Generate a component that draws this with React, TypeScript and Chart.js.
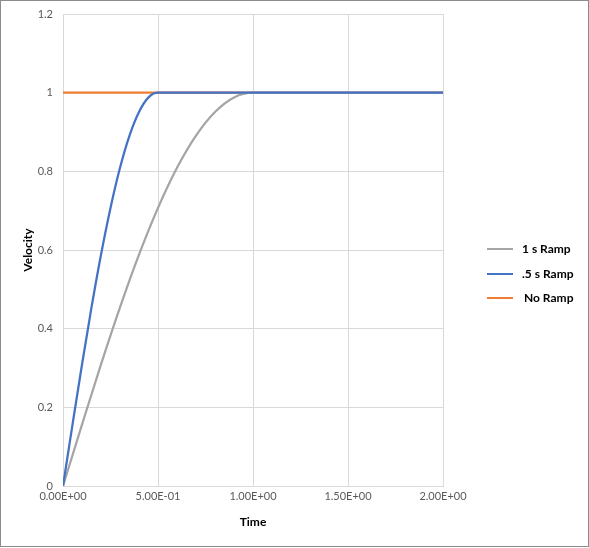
import React, { useEffect, useRef } from "react";
import { Chart, registerables } from "chart.js";

Chart.register(...registerables);

// Data
const seriesLabels = ["1 s Ramp", ".5 s Ramp", "No Ramp"];
const seriesColors = ["#A5A5A5", "#4472C4", "#ED7D31"];

const time1s = [0, 0.1, 0.2, 0.3, 0.4, 0.5, 0.6, 0.7, 0.8, 0.9, 1.0, 2.0];
const vel1s = [0, 0.156, 0.309, 0.454, 0.588, 0.707, 0.809, 0.891, 0.951, 0.988, 1, 1];

const timeHalf = [0, 0.05, 0.1, 0.15, 0.2, 0.25, 0.3, 0.35, 0.4, 0.45, 0.5, 2.0];
const velHalf = [0, 0.156, 0.309, 0.454, 0.588, 0.707, 0.809, 0.891, 0.951, 0.988, 1, 1];

const timeNoRamp = [0, 2.0];
const velNoRamp = [1, 1];

const xTitle = "Time";
const yTitle = "Velocity";

const FONT = "Lato, 'Liberation Sans', sans-serif";

function sci(v: number): string {
  if (v === 0) return "0.00E+00";
  const exp = Math.floor(Math.log10(Math.abs(v)));
  const mant = v / Math.pow(10, exp);
  const sign = exp < 0 ? "-" : "+";
  const e = String(Math.abs(exp)).padStart(2, "0");
  return mant.toFixed(2) + "E" + sign + e;
}

function pts(xs: number[], ys: number[]) {
  return xs.map((x, i) => ({ x, y: ys[i] }));
}

export default function App() {
  const ref = useRef<HTMLCanvasElement>(null);

  useEffect(() => {
    document.body.style.margin = "0";
    const ctx = ref.current!.getContext("2d")!;
    const data = [pts(time1s, vel1s), pts(timeHalf, velHalf), pts(timeNoRamp, velNoRamp)];
    const orders = [2, 1, 3];
    const chart = new Chart(ctx, {
      type: "line",
      data: {
        datasets: data.map((d, i) => ({
          label: seriesLabels[i],
          data: d,
          borderColor: seriesColors[i],
          backgroundColor: seriesColors[i],
          borderWidth: 2.25,
          pointRadius: 0,
          cubicInterpolationMode: "monotone" as const,
          order: orders[i],
          fill: false,
        })),
      },
      options: {
        animation: false,
        responsive: false,
        devicePixelRatio: 1,
        layout: { padding: { left: 0, right: 145, top: 13, bottom: 0 } },
        plugins: { legend: { display: false }, tooltip: { enabled: false } },
        scales: {
          x: {
            type: "linear",
            min: 0,
            max: 2,
            afterFit: (s: any) => {
              s.height = 60;
              s.paddingLeft = 0;
              s.paddingRight = 0;
            },
            ticks: {
              stepSize: 0.5,
              color: "#595959",
              font: { family: FONT, size: 11 },
              padding: 4,
              maxRotation: 0,
              callback: (v: any) => sci(Number(v)),
            },
            grid: { color: "#D9D9D9", drawTicks: false, lineWidth: 1 },
            border: { display: true, color: "#D9D9D9" },
            title: {
              display: true,
              text: xTitle,
              color: "#000",
              font: { family: FONT, size: 12, weight: "bold" },
              padding: { top: 8, bottom: 17 },
            },
          },
          y: {
            type: "linear",
            min: 0,
            max: 1.2,
            afterFit: (s: any) => {
              s.width = 62;
              s.paddingTop = 0;
              s.paddingBottom = 0;
            },
            ticks: {
              stepSize: 0.2,
              color: "#595959",
              font: { family: FONT, size: 11 },
              padding: 10,
              callback: (v: any) => String(Math.round(Number(v) * 10) / 10),
            },
            grid: { color: "#D9D9D9", drawTicks: false, lineWidth: 1 },
            border: { display: true, color: "#D9D9D9" },
            title: {
              display: true,
              text: yTitle,
              color: "#000",
              font: { family: FONT, size: 12, weight: "bold" },
              padding: { top: 20, bottom: 0 },
            },
          },
        },
      },
    });
    return () => chart.destroy();
  }, []);

  const legendYs = [248, 273, 297];

  return (
    <div
      style={{
        position: "relative",
        width: 589,
        height: 547,
        boxSizing: "border-box",
        border: "1px solid #8C8C8C",
        background: "#fff",
      }}
    >
      <canvas ref={ref} width={587} height={545} style={{ position: "absolute", left: 0, top: 0 }} />
      {seriesLabels.map((lab, i) => (
        <div key={lab}>
          <div
            style={{
              position: "absolute",
              left: 486,
              top: legendYs[i] - 1,
              width: 26,
              height: 2.25,
              background: seriesColors[i],
            }}
          />
          <div
            style={{
              position: "absolute",
              left: i === 2 ? 523 : 521,
              top: legendYs[i] - 8,
              height: 16,
              lineHeight: "16px",
              fontFamily: FONT,
              fontSize: 12,
              fontWeight: "bold",
              color: "#000",
              whiteSpace: "nowrap",
            }}
          >
            {lab}
          </div>
        </div>
      ))}
    </div>
  );
}
